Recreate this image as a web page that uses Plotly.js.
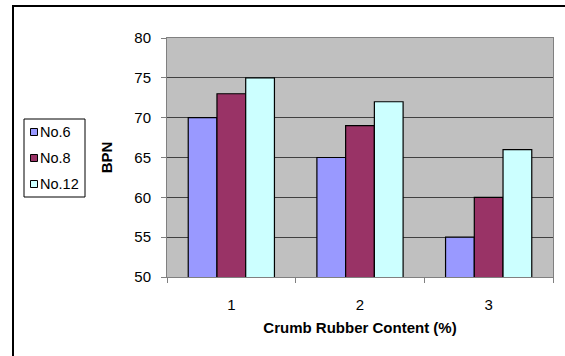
<!DOCTYPE html>
<html>
<head>
<meta charset="utf-8">
<script src="https://cdn.plot.ly/plotly-3.0.1.min.js"></script>
<style>
  html, body { margin: 0; padding: 0; background: #ffffff; }
  #wrap { position: relative; width: 565px; height: 356px; overflow: hidden; }
  #chart { position: absolute; left: 0; top: 0; width: 565px; height: 356px; }
  #frame { position: absolute; left: 12px; top: 5px; width: 600px; height: 400px;
           border: 2px solid #000000; box-sizing: border-box; pointer-events: none; }
</style>
</head>
<body>
<div id="wrap">
  <div id="chart"></div>
  <div id="frame"></div>
</div>
<script>
// Crumb rubber content (%) on the x axis, BPN per sieve size
const categories = ['1', '2', '3'];
const seriesNames = ['No.6', 'No.8', 'No.12'];
const no6 = [70, 65, 55];
const no8 = [73, 69, 60];
const no12 = [75, 72, 66];
const yTicks = [50, 55, 60, 65, 70, 75, 80];

const colors = ['#9999FF', '#993366', '#CCFFFF'];
const values = [no6, no8, no12];

const W = 565, H = 356;
const M = { l: 167, r: 12, t: 38, b: 79 };
const plotW = W - M.l - M.r, plotH = H - M.t - M.b;
// pixel position -> paper fraction
const px = v => (v - M.l) / plotW;
const py = v => (H - M.b - v) / plotH;

const traces = seriesNames.map((name, i) => ({
  type: 'bar',
  name: name,
  x: categories,
  y: values[i],
  base: 0,
  marker: { color: colors[i], line: { color: '#000000', width: 1.2 } },
  hoverinfo: 'skip'
}));

const font = 'Liberation Sans, Arial, sans-serif';

// Boxed legend on the left: frame, swatches and labels
const legendBox = { x0: 24, x1: 85, y0: 119, y1: 197 };
const rowY = [132, 158, 184];
const shapes = [{
  type: 'rect', xref: 'paper', yref: 'paper',
  x0: px(legendBox.x0), x1: px(legendBox.x1),
  y0: py(legendBox.y1), y1: py(legendBox.y0),
  line: { color: '#000000', width: 1 }, fillcolor: '#ffffff', layer: 'above'
}];
const annotations = [];
seriesNames.forEach((name, i) => {
  shapes.push({
    type: 'rect', xref: 'paper', yref: 'paper',
    x0: px(30.5), x1: px(37.5),
    y0: py(rowY[i] + 3.5), y1: py(rowY[i] - 3.5),
    line: { color: '#000000', width: 1 }, fillcolor: colors[i], layer: 'above'
  });
  annotations.push({
    xref: 'paper', yref: 'paper',
    x: px(38), y: py(rowY[i]),
    xanchor: 'left', yanchor: 'middle',
    text: name, showarrow: false,
    font: { family: font, size: 14.5, color: '#000000' }
  });
});

const layout = {
  width: W,
  height: H,
  margin: M,
  paper_bgcolor: 'rgba(0,0,0,0)',
  plot_bgcolor: '#C0C0C0',
  font: { family: font, size: 15, color: '#000000' },
  barmode: 'group',
  bargap: 0.33,
  bargroupgap: 0,
  showlegend: false,
  shapes: shapes,
  annotations: annotations,
  xaxis: {
    type: 'category',
    tickson: 'boundaries',
    ticks: 'outside',
    ticklen: 5,
    tickcolor: '#808080',
    ticklabelstandoff: 14,
    showline: true,
    linecolor: '#808080',
    linewidth: 1,
    mirror: true,
    showgrid: false,
    tickfont: { family: font, size: 15 },
    title: { text: '<b>Crumb Rubber Content (%)</b>', font: { family: font, size: 15 }, standoff: 10 }
  },
  yaxis: {
    range: [50, 80],
    tickvals: yTicks,
    ticktext: yTicks.map(String),
    ticks: 'outside',
    ticklen: 5,
    tickcolor: '#808080',
    ticklabelstandoff: 7,
    showline: true,
    linecolor: '#808080',
    linewidth: 1,
    mirror: true,
    showgrid: true,
    gridcolor: '#404040',
    gridwidth: 1,
    zeroline: false,
    tickfont: { family: font, size: 15 },
    title: { text: '<b>BPN</b>', font: { family: font, size: 15 }, standoff: 18 }
  }
};

Plotly.newPlot('chart', traces, layout, { staticPlot: true, displayModeBar: false });
</script>
</body>
</html>
